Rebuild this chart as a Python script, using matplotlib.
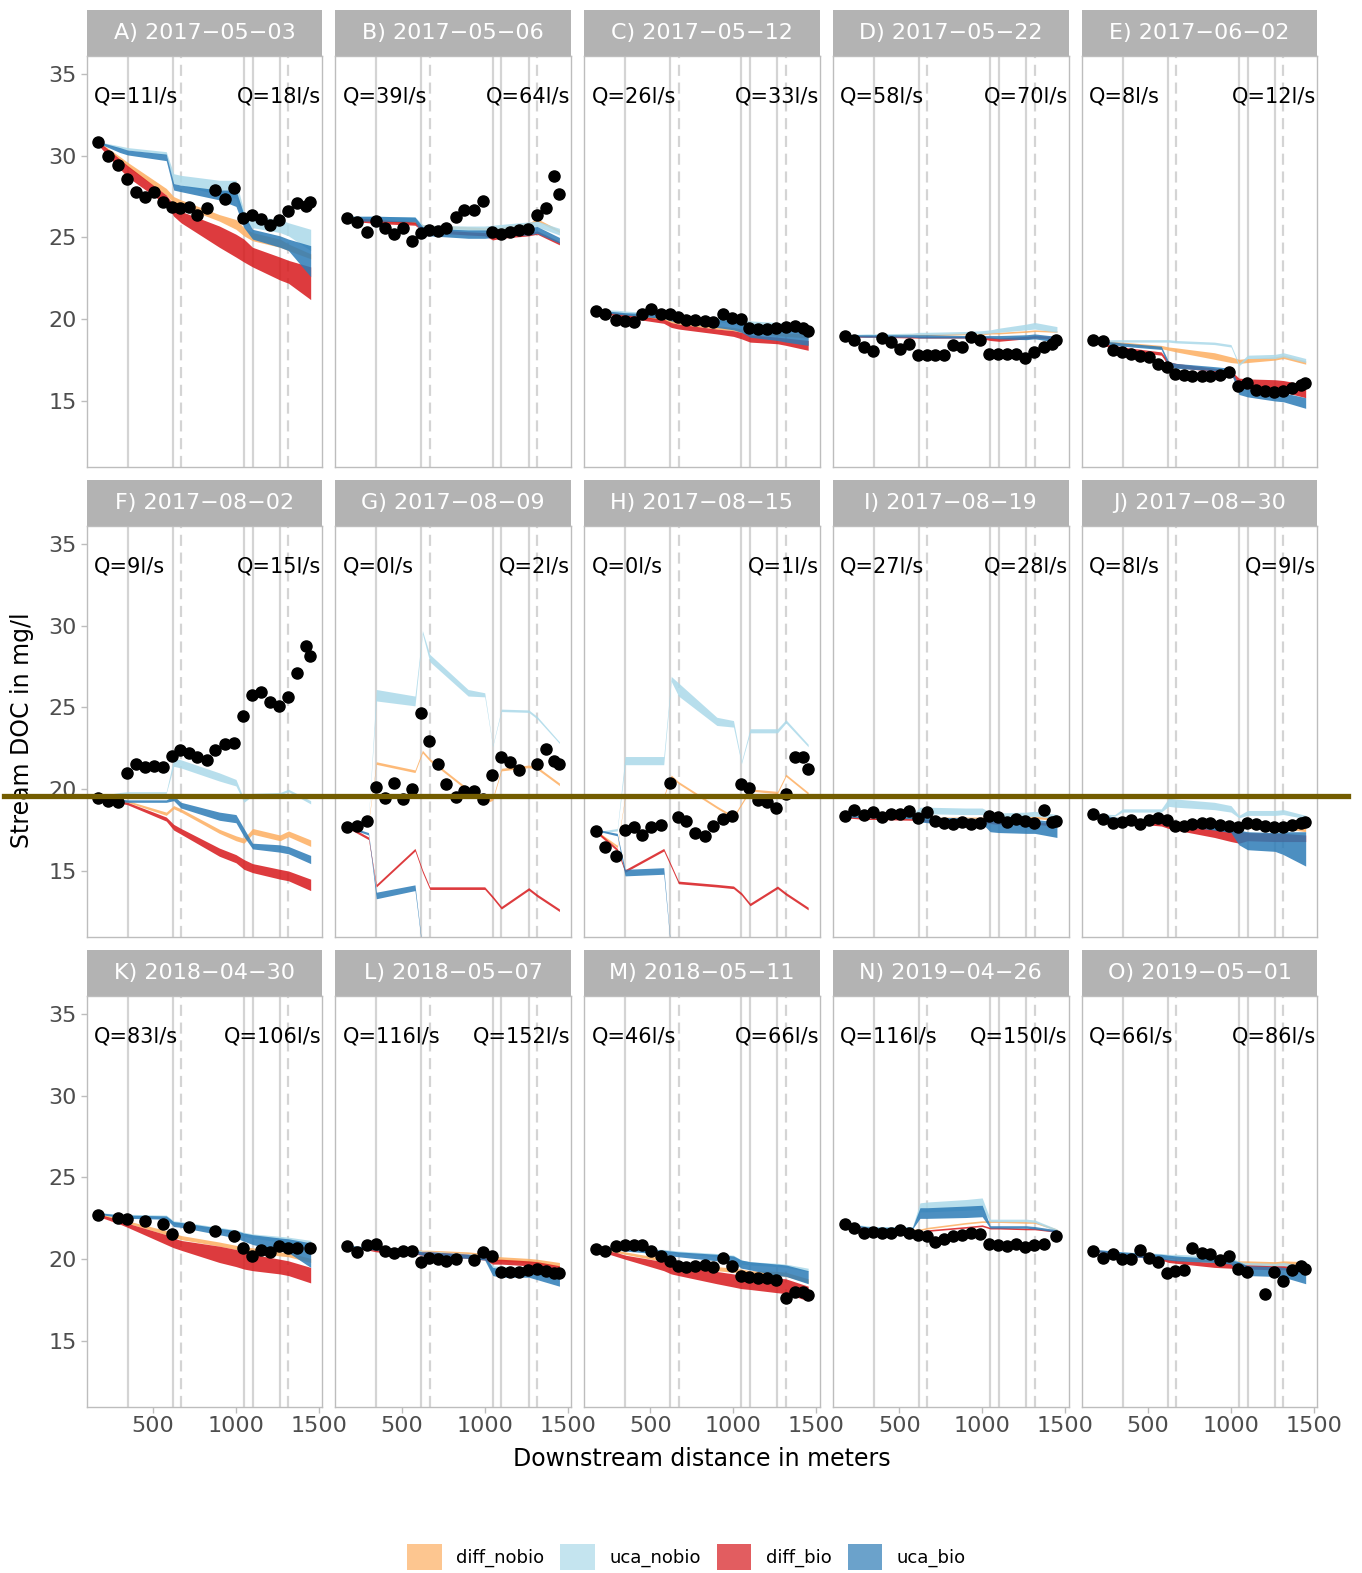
import numpy as np
import matplotlib

matplotlib.use("Agg")
import matplotlib.pyplot as plt
from matplotlib.patches import Patch
from matplotlib.lines import Line2D

nan = np.nan

PANELS = ["A) 2017\u221205\u221203", "B) 2017\u221205\u221206", "C) 2017\u221205\u221212",
          "D) 2017\u221205\u221222", "E) 2017\u221206\u221202", "F) 2017\u221208\u221202",
          "G) 2017\u221208\u221209", "H) 2017\u221208\u221215", "I) 2017\u221208\u221219",
          "J) 2017\u221208\u221230", "K) 2018\u221204\u221230", "L) 2018\u221205\u221207",
          "M) 2018\u221205\u221211", "N) 2019\u221204\u221226", "O) 2019\u221205\u221201"]
Q_UP = ["Q=11l/s", "Q=39l/s", "Q=26l/s", "Q=58l/s", "Q=8l/s",
        "Q=9l/s", "Q=0l/s", "Q=0l/s", "Q=27l/s", "Q=8l/s",
        "Q=83l/s", "Q=116l/s", "Q=46l/s", "Q=116l/s", "Q=66l/s"]
Q_DOWN = ["Q=18l/s", "Q=64l/s", "Q=33l/s", "Q=70l/s", "Q=12l/s",
          "Q=15l/s", "Q=2l/s", "Q=1l/s", "Q=28l/s", "Q=9l/s",
          "Q=106l/s", "Q=152l/s", "Q=66l/s", "Q=150l/s", "Q=86l/s"]

# tributary inflows (solid) and sampling sites (dashed)
TRIB_M = [347, 618, 1048, 1100, 1265]
SAMPLE_M = [669, 1316]

# observed stations (m downstream)
STATION_M = [172, 228, 290, 345, 398, 451, 505, 562, 616, 665, 717, 768, 826,
             876, 934, 989, 1043, 1096, 1150, 1204, 1258, 1314, 1370, 1420, 1447]

DOC_OBS = [
    [30.86, 29.98, 29.43, 28.56, 27.8, 27.5, 27.8, 27.19, 26.88, 26.78, 26.85, 26.38, 26.78, 27.9, 27.33, 28.05, 26.2, 26.35, 26.1, 25.75, 26.05, 26.6, 27.1, 26.9, 27.15],
    [26.2, 25.97, 25.36, 26.03, 25.56, 25.21, 25.6, 24.78, 25.25, 25.46, 25.4, 25.6, 26.27, 26.68, 26.68, 27.23, 25.36, 25.19, 25.36, 25.46, 25.52, 26.37, 26.78, 28.76, 27.64],
    [20.5, 20.35, 19.95, 19.9, 19.8, 20.35, 20.6, 20.35, 20.35, 20.15, 19.95, 19.95, 19.9, 19.8, 20.3, 20.1, 20.0, 19.45, 19.4, 19.4, 19.45, 19.5, 19.6, 19.45, 19.3],
    [19.0, 18.7, 18.3, 18.05, 18.87, 18.6, 18.2, 18.5, 17.8, 17.8, 17.8, 17.8, 18.4, 18.3, 18.9, 18.75, 17.85, 17.85, 17.85, 17.85, 17.6, 18.0, 18.3, 18.5, 18.7],
    [18.7, 18.65, 18.1, 18.0, 17.85, 17.75, 17.7, 17.25, 17.05, 16.65, 16.6, 16.55, 16.5, 16.55, 16.6, 16.75, 15.9, 16.1, 15.7, 15.6, 15.55, 15.6, 15.8, 15.95, 16.1],
    [19.45, 19.28, 19.24, 20.98, 21.55, 21.39, 21.45, 21.39, 22.04, 22.37, 22.2, 21.96, 21.8, 22.4, 22.78, 22.82, 24.49, 25.77, 25.93, 25.36, 25.1, 25.63, 27.09, 28.76, 28.15],
    [17.71, 17.75, 18.07, 20.16, 19.44, 20.36, 19.38, 19.99, 24.69, 22.96, 21.53, 20.32, 19.55, 19.91, 19.91, 19.38, 20.87, 21.95, 21.69, 21.18, nan, 21.53, 22.43, 21.73, 21.53],
    [17.47, 16.45, 15.92, 17.51, 17.71, 17.2, 17.71, 17.81, 20.4, 18.32, 18.07, 17.34, 17.14, 17.75, 18.16, 18.36, 20.3, 20.06, 19.34, 19.24, 18.83, 19.71, 21.99, 21.95, 21.22],
    [18.36, 18.73, 18.42, 18.62, 18.32, 18.46, 18.46, 18.69, 18.26, 18.62, 18.06, 17.91, 17.87, 18.01, 17.87, 17.95, 18.38, 18.32, 17.97, 18.16, 18.06, 17.91, 18.73, 18.01, 18.08],
    [18.5, 18.16, 17.92, 18.02, 18.12, 17.9, 18.12, 18.22, 18.12, 17.75, 17.75, 17.87, 17.96, 17.96, 17.81, 17.75, 17.71, 17.96, 17.87, 17.75, 17.71, 17.67, 17.81, 17.96, 18.02],
    [22.69, nan, 22.5, 22.44, nan, 22.31, nan, 22.17, 21.54, nan, 21.98, nan, nan, 21.73, nan, 21.44, 20.71, 20.19, 20.58, 20.44, 20.83, 20.71, 20.71, nan, 20.71],
    [20.83, 20.44, 20.9, 20.96, 20.48, 20.38, 20.52, 20.48, 19.81, 20.1, 20.0, 19.9, 20.0, nan, 19.94, 20.44, 20.19, 19.23, 19.23, 19.23, 19.37, 19.42, 19.29, 19.13, 19.13],
    [20.65, 20.5, 20.8, 20.85, 20.9, 20.9, 20.5, 20.2, 19.9, 19.6, 19.55, 19.6, 19.65, 19.55, 20.05, 19.6, 18.95, 18.9, 18.85, 18.85, 18.75, 17.65, 18.0, 18.0, 17.8],
    [22.17, 21.93, 21.63, 21.68, 21.63, 21.63, 21.78, 21.63, 21.49, 21.43, 21.05, 21.24, 21.43, 21.49, 21.59, 21.55, 20.92, 20.86, 20.78, 20.92, 20.72, 20.86, 20.92, nan, 21.4],
    [20.53, 20.05, 20.34, 20.01, 20.01, 20.59, 20.05, 19.82, 19.13, 19.28, 19.32, 20.67, 20.4, 20.34, 19.95, 20.2, 19.43, 19.24, nan, 17.9, 19.24, 18.67, 19.35, 19.57, 19.38],
]

# model output nodes (m downstream)
NODE_M = [175, 300, 347, 580, 625, 669, 900, 1000, 1048, 1100, 1265, 1316, 1450]

DIFF_NOBIO_LO = [
    [30.75, 29.75, 29.3, 27.6, 27.1, 26.9, 26.0, 25.5, 25.1, 24.8, 24.4, 24.2, 23.7],
    [26.15, 26.05, 26.0, 25.85, 25.65, 25.6, 25.5, 25.45, 25.45, 25.5, 25.75, 26.0, 25.3],
    [20.45, 20.25, 20.2, 19.95, 19.8, 19.7, 19.4, 19.3, 19.2, 19.15, 19.0, 18.95, 18.85],
    [18.95, 18.95, 18.95, 19.0, 19.0, 19.0, 19.05, 19.05, 19.1, 19.1, 19.2, 19.25, 19.2],
    [18.6, 18.5, 18.45, 18.2, 18.1, 18.0, 17.55, 17.35, 17.3, 17.35, 17.5, 17.6, 17.25],
    [19.4, 19.25, 19.2, 18.4, 18.8, 18.6, 17.3, 16.85, 16.7, 17.25, 16.85, 17.1, 16.5],
    [17.68, 17.92, 21.52, 21.02, 22.22, 21.72, 19.87, 19.12, 19.32, 21.12, 21.32, 21.22, 20.22],
    [17.33, 16.43, 19.48, 19.48, 20.73, 20.33, 18.83, 18.23, 19.03, 19.88, 19.73, 20.78, 19.68],
    [18.3, 18.25, 18.25, 18.2, 18.2, 18.2, 18.15, 18.15, 18.15, 18.15, 18.15, 18.2, 18.1],
    [18.4, 18.2, 18.15, 18.0, 17.95, 17.9, 17.75, 17.7, 17.65, 17.6, 17.55, 17.6, 17.4],
    [22.7, 22.35, 22.2, 21.5, 21.35, 21.2, 20.8, 20.6, 20.5, 20.45, 20.2, 20.15, 19.8],
    [20.75, 20.6, 20.55, 20.45, 20.4, 20.4, 20.25, 20.15, 19.95, 19.9, 19.8, 19.75, 19.55],
    [20.6, 20.4, 20.3, 19.85, 19.75, 19.65, 19.3, 19.2, 19.15, 19.05, 19.0, 18.95, 18.55],
    [22.1, 21.9, 21.85, 21.75, 21.75, 21.85, 22.15, 22.25, 22.25, 22.25, 22.2, 22.2, 21.75],
    [20.5, 20.35, 20.3, 20.1, 20.05, 20.0, 19.8, 19.75, 19.6, 19.6, 19.6, 19.65, 19.65],
]
DIFF_NOBIO_HI = [
    [30.85, 29.95, 29.6, 28.0, 27.5, 27.3, 26.4, 26.1, 25.6, 25.3, 24.9, 24.6, 24.0],
    [26.25, 26.2, 26.15, 26.0, 25.8, 25.75, 25.65, 25.6, 25.6, 25.65, 25.9, 26.15, 25.45],
    [20.55, 20.4, 20.35, 20.1, 20.0, 19.9, 19.6, 19.5, 19.4, 19.35, 19.2, 19.15, 19.1],
    [19.05, 19.05, 19.05, 19.1, 19.1, 19.1, 19.15, 19.15, 19.2, 19.2, 19.3, 19.35, 19.3],
    [18.7, 18.65, 18.6, 18.4, 18.3, 18.25, 17.95, 17.7, 17.55, 17.6, 17.7, 17.8, 17.45],
    [19.5, 19.35, 19.3, 18.6, 19.0, 18.8, 17.55, 17.15, 17.0, 17.6, 17.2, 17.45, 16.9],
    [17.82, 18.08, 21.68, 21.18, 22.38, 21.88, 20.03, 19.28, 19.48, 21.28, 21.48, 21.38, 20.38],
    [17.47, 16.57, 19.62, 19.62, 20.87, 20.47, 18.97, 18.37, 19.17, 20.02, 19.87, 20.92, 19.82],
    [18.4, 18.35, 18.35, 18.3, 18.3, 18.3, 18.3, 18.3, 18.3, 18.3, 18.3, 18.35, 18.25],
    [18.5, 18.3, 18.25, 18.15, 18.1, 18.05, 17.95, 17.9, 17.9, 17.85, 17.85, 17.9, 17.7],
    [22.8, 22.5, 22.35, 21.75, 21.6, 21.45, 21.05, 20.85, 20.75, 20.7, 20.45, 20.4, 20.05],
    [20.85, 20.75, 20.7, 20.6, 20.55, 20.55, 20.45, 20.35, 20.2, 20.15, 20.05, 20.0, 19.8],
    [20.7, 20.55, 20.45, 20.05, 19.95, 19.85, 19.55, 19.45, 19.4, 19.3, 19.25, 19.2, 18.8],
    [22.2, 22.0, 21.95, 21.85, 21.85, 21.95, 22.25, 22.35, 22.35, 22.35, 22.3, 22.3, 21.85],
    [20.6, 20.45, 20.4, 20.25, 20.2, 20.15, 20.0, 19.95, 19.9, 19.9, 19.85, 19.9, 19.85],
]
UCA_NOBIO_LO = [
    [30.75, 30.45, 30.35, 30.05, 28.3, 28.2, 27.6, 27.4, 26.0, 25.6, 25.3, 25.1, 24.2],
    [26.1, 26.1, 26.1, 26.05, 25.5, 25.45, 25.4, 25.4, 25.45, 25.5, 25.6, 25.65, 25.15],
    [20.5, 20.4, 20.35, 20.2, 20.1, 20.05, 19.85, 19.75, 19.6, 19.55, 19.45, 19.4, 19.3],
    [18.95, 18.95, 18.95, 19.0, 19.05, 19.05, 19.1, 19.1, 19.15, 19.2, 19.35, 19.4, 19.2],
    [18.6, 18.6, 18.6, 18.6, 18.6, 18.55, 18.45, 18.3, 17.15, 17.6, 17.6, 17.7, 17.35],
    [19.5, 19.7, 19.75, 19.75, 21.4, 21.3, 20.5, 20.2, 19.2, 19.6, 19.65, 19.85, 19.1],
    [17.7, 18.2, 25.4, 25.1, 29.5, 27.8, 25.7, 25.65, 22.6, 24.75, 24.7, 24.3, 22.8],
    [17.3, 17.45, 21.5, 21.5, 26.6, 25.7, 23.9, 23.8, 21.55, 23.45, 23.45, 24.05, 22.6],
    [18.3, 18.3, 18.3, 18.3, 18.5, 18.5, 18.45, 18.45, 18.3, 18.3, 18.3, 18.35, 18.2],
    [18.4, 18.35, 18.6, 18.6, 18.95, 18.9, 18.75, 18.6, 18.25, 18.4, 18.4, 18.45, 18.2],
    [22.75, 22.6, 22.55, 22.5, 22.15, 22.1, 21.7, 21.55, 21.4, 21.3, 21.05, 21.0, 20.55],
    [20.75, 20.65, 20.6, 20.4, 20.3, 20.3, 20.15, 20.05, 19.2, 19.15, 19.1, 19.05, 18.9],
    [20.6, 20.6, 20.55, 20.45, 20.4, 20.35, 20.15, 20.05, 19.7, 19.65, 19.55, 19.5, 19.25],
    [22.1, 21.95, 21.9, 21.9, 22.9, 22.9, 23.0, 23.05, 22.3, 22.3, 22.3, 22.25, 21.7],
    [20.5, 20.35, 20.3, 20.15, 20.1, 20.1, 19.95, 19.9, 19.55, 19.5, 19.45, 19.5, 19.3],
]
UCA_NOBIO_HI = [
    [30.85, 30.6, 30.5, 30.25, 28.9, 28.8, 28.5, 28.5, 26.6, 26.3, 26.1, 25.9, 25.5],
    [26.3, 26.3, 26.3, 26.25, 25.8, 25.75, 25.7, 25.7, 25.75, 25.8, 25.95, 26.0, 25.56],
    [20.6, 20.55, 20.5, 20.35, 20.3, 20.25, 20.1, 20.0, 19.95, 19.9, 19.8, 19.75, 19.65],
    [19.05, 19.1, 19.1, 19.15, 19.2, 19.2, 19.25, 19.3, 19.35, 19.45, 19.7, 19.8, 19.55],
    [18.7, 18.75, 18.75, 18.75, 18.75, 18.7, 18.6, 18.45, 17.3, 17.8, 17.85, 17.95, 17.6],
    [19.6, 19.8, 19.85, 19.85, 21.9, 21.8, 21.0, 20.6, 19.4, 19.75, 19.8, 20.0, 19.3],
    [17.8, 18.3, 26.1, 25.7, 29.7, 28.25, 26.1, 25.9, 22.7, 24.9, 24.85, 24.45, 22.9],
    [17.4, 17.6, 22.0, 22.0, 26.9, 26.5, 24.4, 24.2, 21.7, 23.7, 23.7, 24.25, 22.75],
    [18.4, 18.4, 18.4, 18.45, 18.9, 18.9, 18.85, 18.85, 18.6, 18.55, 18.6, 18.65, 18.45],
    [18.5, 18.45, 18.8, 18.8, 19.45, 19.4, 19.2, 19.0, 18.4, 18.7, 18.7, 18.75, 18.4],
    [22.85, 22.75, 22.75, 22.7, 22.35, 22.3, 21.95, 21.8, 21.65, 21.55, 21.4, 21.35, 21.15],
    [20.85, 20.75, 20.75, 20.6, 20.5, 20.5, 20.35, 20.25, 19.6, 19.55, 19.5, 19.45, 19.3],
    [20.7, 20.7, 20.65, 20.6, 20.55, 20.5, 20.35, 20.25, 19.95, 19.85, 19.75, 19.7, 19.45],
    [22.2, 22.05, 22.0, 22.0, 23.45, 23.5, 23.65, 23.75, 22.45, 22.45, 22.45, 22.4, 21.85],
    [20.6, 20.5, 20.45, 20.35, 20.3, 20.3, 20.2, 20.15, 19.85, 19.8, 19.75, 19.8, 19.6],
]
DIFF_BIO_LO = [
    [30.6, 29.2, 28.7, 27.0, 26.3, 25.9, 24.4, 23.8, 23.5, 23.2, 22.4, 22.2, 21.2],
    [26.0, 25.9, 25.85, 25.75, 25.4, 25.3, 25.15, 25.1, 24.85, 24.95, 25.1, 25.2, 24.55],
    [20.4, 20.2, 20.1, 19.75, 19.5, 19.4, 19.1, 18.95, 18.8, 18.6, 18.5, 18.4, 18.1],
    [18.9, 18.9, 18.9, 18.85, 18.85, 18.85, 18.85, 18.8, 18.7, 18.65, 18.8, 18.85, 18.8],
    [18.55, 18.2, 18.1, 17.8, 17.15, 17.05, 16.8, 16.65, 15.8, 15.75, 15.6, 15.55, 15.2],
    [19.35, 19.15, 19.05, 18.05, 17.5, 17.25, 15.9, 15.5, 15.1, 14.9, 14.5, 14.4, 13.8],
    [17.62, 16.92, 14.02, 16.22, 14.92, 13.87, 13.87, 13.87, 13.32, 12.67, 13.82, 13.42, 12.52],
    [17.32, 16.22, 14.92, 16.22, 15.22, 14.22, 14.02, 13.92, 13.52, 12.87, 13.92, 13.52, 12.62],
    [18.25, 18.15, 18.15, 18.1, 18.05, 18.0, 17.95, 17.95, 17.9, 17.85, 17.85, 17.85, 17.75],
    [18.35, 18.05, 17.95, 17.75, 17.6, 17.5, 17.05, 16.8, 16.7, 16.85, 16.8, 16.8, 16.8],
    [22.6, 22.15, 21.95, 20.9, 20.7, 20.55, 19.8, 19.55, 19.4, 19.3, 19.1, 19.0, 18.55],
    [20.7, 20.55, 20.45, 20.3, 20.25, 20.2, 20.05, 19.95, 19.7, 19.7, 19.6, 19.55, 19.3],
    [20.55, 20.15, 20.0, 19.3, 19.1, 19.0, 18.5, 18.3, 18.2, 18.15, 17.95, 17.9, 17.45],
    [22.05, 21.85, 21.8, 21.4, 21.5, 21.7, 21.9, 22.0, 21.85, 21.85, 21.8, 21.8, 21.65],
    [20.5, 20.3, 20.25, 19.95, 19.8, 19.75, 19.5, 19.45, 19.4, 19.4, 19.35, 19.35, 19.2],
]
DIFF_BIO_HI = [
    [30.85, 29.8, 29.4, 27.6, 27.0, 26.6, 25.7, 25.2, 24.9, 24.4, 23.8, 23.6, 23.2],
    [26.2, 26.15, 26.1, 25.95, 25.6, 25.5, 25.35, 25.3, 25.05, 25.15, 25.3, 25.4, 24.75],
    [20.5, 20.35, 20.3, 20.0, 19.8, 19.7, 19.4, 19.3, 19.2, 19.05, 18.9, 18.85, 18.7],
    [19.0, 19.0, 19.0, 18.95, 18.95, 18.95, 18.95, 18.95, 18.9, 18.85, 18.95, 19.0, 18.95],
    [18.65, 18.4, 18.3, 18.0, 17.4, 17.3, 17.0, 16.85, 16.4, 16.35, 16.3, 16.25, 16.0],
    [19.45, 19.3, 19.2, 18.3, 17.85, 17.6, 16.4, 16.0, 15.7, 15.45, 15.1, 15.0, 14.5],
    [17.78, 17.08, 14.18, 16.38, 15.08, 14.03, 14.03, 14.03, 13.48, 12.83, 13.98, 13.58, 12.68],
    [17.48, 16.38, 15.08, 16.38, 15.38, 14.38, 14.18, 14.08, 13.68, 13.03, 14.08, 13.68, 12.78],
    [18.35, 18.25, 18.25, 18.2, 18.15, 18.15, 18.1, 18.1, 18.05, 18.0, 18.0, 18.0, 17.9],
    [18.45, 18.2, 18.1, 17.95, 17.85, 17.8, 17.55, 17.45, 17.4, 17.35, 17.3, 17.3, 17.2],
    [22.75, 22.4, 22.2, 21.5, 21.3, 21.15, 20.8, 20.6, 20.4, 20.3, 20.0, 19.9, 19.5],
    [20.8, 20.7, 20.6, 20.5, 20.45, 20.45, 20.3, 20.2, 20.0, 20.0, 19.9, 19.85, 19.6],
    [20.65, 20.4, 20.25, 19.85, 19.7, 19.6, 19.25, 19.1, 19.0, 18.95, 18.85, 18.8, 18.35],
    [22.15, 21.95, 21.9, 21.5, 21.6, 21.8, 22.0, 22.1, 21.95, 21.95, 21.9, 21.9, 21.75],
    [20.6, 20.4, 20.35, 20.1, 20.0, 19.95, 19.8, 19.75, 19.7, 19.65, 19.6, 19.6, 19.45],
]
UCA_BIO_LO = [
    [30.75, 30.2, 30.05, 29.7, 27.9, 27.8, 27.3, 26.9, 25.6, 24.9, 24.4, 24.2, 22.6],
    [26.0, 26.0, 26.0, 25.95, 25.15, 25.1, 24.95, 24.95, 25.0, 25.1, 25.15, 25.25, 24.65],
    [20.45, 20.3, 20.25, 20.05, 19.9, 19.8, 19.5, 19.35, 19.2, 18.9, 18.7, 18.6, 18.4],
    [18.95, 18.9, 18.9, 18.9, 18.85, 18.85, 18.85, 18.85, 18.85, 18.8, 18.75, 18.8, 18.6],
    [18.6, 18.4, 18.35, 18.15, 17.1, 17.0, 16.85, 16.75, 15.4, 15.25, 15.0, 14.95, 14.55],
    [19.4, 19.25, 19.2, 19.2, 19.3, 18.85, 18.1, 17.95, 17.1, 16.35, 16.15, 16.05, 15.45],
    [17.65, 17.2, 13.3, 13.8, 10.1, 8.9, 8.9, 8.9, 8.9, 8.9, 8.9, 8.9, 8.9],
    [17.45, 17.15, 14.7, 14.8, 9.9, 8.9, 8.9, 8.9, 8.9, 8.9, 8.9, 8.9, 8.9],
    [18.3, 18.25, 18.25, 18.2, 18.0, 17.95, 17.9, 17.9, 17.4, 17.35, 17.3, 17.3, 17.05],
    [18.4, 18.15, 18.1, 17.95, 17.9, 17.8, 17.5, 17.35, 16.6, 16.3, 16.2, 16.0, 15.3],
    [22.75, 22.55, 22.5, 22.45, 22.0, 21.95, 21.5, 21.3, 21.1, 20.9, 20.5, 20.4, 19.5],
    [20.75, 20.6, 20.55, 20.35, 20.25, 20.2, 20.05, 19.95, 19.0, 18.9, 18.9, 18.75, 18.35],
    [20.6, 20.55, 20.5, 20.3, 20.2, 20.15, 19.9, 19.8, 19.45, 19.35, 19.0, 18.95, 18.5],
    [22.1, 21.9, 21.85, 21.85, 22.5, 22.5, 22.55, 22.6, 21.9, 21.9, 21.9, 21.85, 21.65],
    [20.5, 20.25, 20.2, 20.0, 19.95, 19.9, 19.8, 19.7, 19.1, 19.0, 18.95, 18.9, 18.5],
]
UCA_BIO_HI = [
    [30.85, 30.5, 30.35, 30.1, 28.3, 28.2, 27.9, 27.9, 26.4, 25.5, 25.1, 24.9, 24.5],
    [26.3, 26.3, 26.3, 26.25, 25.67, 25.56, 25.46, 25.46, 25.41, 25.46, 25.6, 25.67, 25.0],
    [20.55, 20.45, 20.4, 20.3, 20.25, 20.2, 20.0, 19.9, 19.8, 19.7, 19.6, 19.5, 19.4],
    [19.05, 19.05, 19.05, 19.05, 19.05, 19.05, 19.0, 19.0, 19.0, 19.0, 19.05, 19.1, 18.95],
    [18.7, 18.6, 18.55, 18.35, 17.4, 17.3, 17.1, 17.0, 15.9, 15.75, 15.6, 15.5, 15.2],
    [19.5, 19.4, 19.35, 19.35, 19.6, 19.2, 18.6, 18.45, 17.6, 16.7, 16.6, 16.5, 15.95],
    [17.75, 17.35, 13.7, 14.15, 10.2, 9.0, 9.0, 9.0, 9.0, 9.0, 9.0, 9.0, 9.0],
    [17.55, 17.3, 15.1, 15.2, 10.0, 9.0, 9.0, 9.0, 9.0, 9.0, 9.0, 9.0, 9.0],
    [18.4, 18.35, 18.35, 18.35, 18.35, 18.3, 18.25, 18.2, 18.15, 18.1, 18.1, 18.15, 18.0],
    [18.5, 18.3, 18.25, 18.15, 18.1, 18.05, 17.85, 17.7, 17.5, 17.4, 17.35, 17.4, 17.4],
    [22.85, 22.7, 22.7, 22.65, 22.3, 22.25, 21.9, 21.75, 21.6, 21.5, 21.3, 21.25, 21.0],
    [20.85, 20.75, 20.75, 20.55, 20.45, 20.45, 20.3, 20.2, 19.5, 19.4, 19.35, 19.35, 19.2],
    [20.7, 20.7, 20.65, 20.55, 20.5, 20.45, 20.3, 20.2, 19.95, 19.85, 19.7, 19.65, 19.3],
    [22.2, 22.0, 21.95, 21.95, 23.15, 23.15, 23.25, 23.3, 22.05, 22.05, 22.05, 22.0, 21.8],
    [20.6, 20.5, 20.45, 20.3, 20.25, 20.2, 20.05, 19.95, 19.85, 19.6, 19.55, 19.5, 19.3],
]

MODELS = ["diff_nobio", "uca_nobio", "diff_bio", "uca_bio"]
COLORS = ["#FDAE61", "#ABD9E9", "#D7191C", "#2C7BB6"]
BANDS = [(DIFF_NOBIO_LO, DIFF_NOBIO_HI), (UCA_NOBIO_LO, UCA_NOBIO_HI),
         (DIFF_BIO_LO, DIFF_BIO_HI), (UCA_BIO_LO, UCA_BIO_HI)]

W, H = 1362, 1573


def rect(x0, y0, w, h):
    return [x0 / W, 1 - (y0 + h) / H, w / W, h / H]


fig = plt.figure(figsize=(W / 100, H / 100), dpi=100)

for k in range(15):
    r, c = divmod(k, 5)
    left = 86.7 + c * 248.75
    top = 10 + r * 470

    sax = fig.add_axes(rect(left, top, 235.6, 46))
    sax.set_facecolor("#B3B3B3")
    sax.set_xticks([])
    sax.set_yticks([])
    for s in sax.spines.values():
        s.set_visible(False)
    sax.text(0.5, 0.5, PANELS[k], color="white", fontsize=16,
             ha="center", va="center", transform=sax.transAxes)

    ax = fig.add_axes(rect(left, top + 46, 235.6, 410.7))
    ax.set_xlim(101, 1520)
    ax.set_ylim(10.98, 36.10)
    for s in ax.spines.values():
        s.set_color("#BDBDBD")
        s.set_linewidth(1.0)

    for xv in TRIB_M:
        ax.axvline(xv, color="#D4D4D4", lw=1.6, zorder=1)
    for xv in SAMPLE_M:
        ax.axvline(xv, color="#D4D4D4", lw=1.6, ls=(0, (5, 3)), zorder=1)

    for (lo, hi), col in zip(BANDS, COLORS):
        ax.fill_between(NODE_M, lo[k], hi[k], color=col, alpha=0.85, lw=0, zorder=2)

    ax.plot(STATION_M, DOC_OBS[k], "o", color="black", ms=8, zorder=4)

    ax.text(145, 33.6, Q_UP[k], ha="left", va="center", fontsize=15)
    ax.text(1515, 33.6, Q_DOWN[k], ha="right", va="center", fontsize=15)

    ax.set_xticks([500, 1000, 1500])
    ax.set_yticks([15, 20, 25, 30, 35])
    ax.tick_params(colors="#BDBDBD", labelcolor="#4D4D4D", labelsize=16,
                   length=4, width=1, pad=3)
    if c != 0:
        ax.tick_params(axis="y", left=False, labelleft=False)
    if r != 2:
        ax.tick_params(axis="x", bottom=False, labelbottom=False)

fig.text(22 / W, 1 - 730 / H, "Stream DOC in mg/l", rotation=90,
         ha="center", va="center", fontsize=17)
fig.text(702 / W, 1 - 1459 / H, "Downstream distance in meters",
         ha="center", va="center", fontsize=17)

handles = [Patch(facecolor=col, alpha=0.7, lw=0) for col in COLORS]
fig.legend(handles, MODELS, loc="center", bbox_to_anchor=(0.504, 1 - 1557 / H),
           ncol=4, frameon=False, fontsize=13, handlelength=1.9, handleheight=1.9,
           handletextpad=0.8, columnspacing=0.9)

fig.add_artist(Line2D([0.003, 0.99], [1 - 795.5 / H] * 2, color="#735C00",
                      lw=3.8, transform=fig.transFigure, zorder=10))

fig.savefig("out.png", dpi=100)
